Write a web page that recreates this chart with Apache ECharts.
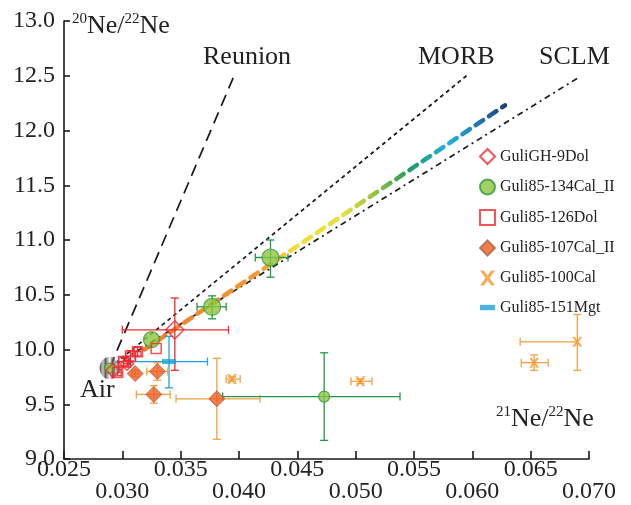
<!DOCTYPE html>
<html>
<head>
<meta charset="utf-8">
<script src="https://cdn.jsdelivr.net/npm/echarts@6/dist/echarts.min.js"></script>
<style>
  html, body { margin: 0; padding: 0; background: #ffffff; }
  #chart { width: 631px; height: 505px; }
</style>
</head>
<body>
<div id="chart"></div>
<script>
// Neon isotope ratios: x = 21Ne/22Ne, y = 20Ne/22Ne
// Sample rows: [x, y, x minus err, x plus err, y minus err, y plus err]
const guliGH9Dol = [
  [0.0345, 10.18, 0.0045, 0.0046, 0.37, 0.29],
  [0.0304, 9.87, 0.0003, 0.0003, 0.03, 0.03],
  [0.0292, 9.81, 0, 0, 0, 0]
];
const guli85_134Cal = [
  [0.0427, 10.84, 0.0013, 0.0015, 0.18, 0.16],
  [0.0377, 10.39, 0.0013, 0.0012, 0.11, 0.10],
  [0.0325, 10.09, 0, 0, 0, 0],
  [0.0473, 9.57, 0.0087, 0.0065, 0.40, 0.40],
  [0.0289, 9.83, 0, 0, 0, 0]
];
const guli85_126Dol = [
  [0.0329, 10.01, 0, 0, 0, 0],
  [0.0313, 9.98, 0.0003, 0.0003, 0.04, 0.04],
  [0.0307, 9.94, 0.0004, 0.0004, 0.05, 0.05],
  [0.0301, 9.89, 0.0004, 0.0004, 0.04, 0.04],
  [0.0296, 9.79, 0.0003, 0.0003, 0.03, 0.03]
];
const guli85_107Cal = [
  [0.0311, 9.78, 0.0003, 0.0003, 0.03, 0.03],
  [0.0330, 9.80, 0.0009, 0.0009, 0.08, 0.08],
  [0.0327, 9.59, 0.0015, 0.0014, 0.08, 0.08],
  [0.0381, 9.55, 0.0035, 0.0037, 0.37, 0.37]
];
const guli85_100Cal = [
  [0.0394, 9.73, 0.0005, 0.0007, 0.02, 0.02],
  [0.0504, 9.71, 0.0008, 0.0010, 0.02, 0.02],
  [0.0653, 9.88, 0.0011, 0.0012, 0.07, 0.07],
  [0.0690, 10.07, 0.0049, 0, 0.26, 0.25]
];
const guli85_151Mgt = [
  [0.0340, 9.89, 0.0034, 0.0033, 0.24, 0.23]
];
const airPoint = [[0.0289, 9.83]];

// Mixing / reference trends
const reunionLine = [[0.0289, 9.83], [0.0395, 12.48]];
const morbLine = [[0.0289, 9.83], [0.0595, 12.50]];
const sclmLine = [[0.0289, 9.83], [0.0692, 12.49]];
const trendLine = [[0.0319, 10.00], [0.0628, 12.23]];

// Axis tick labels
const xTickLabels = ['0.025', '0.030', '0.035', '0.040', '0.045', '0.050', '0.055', '0.060', '0.065', '0.070'];
const yTickLabels = ['9.0', '9.5', '10.0', '10.5', '11.0', '11.5', '12.0', '12.5', '13.0'];

const seriesNames = ['GuliGH-9Dol', 'Guli85-134Cal_II', 'Guli85-126Dol', 'Guli85-107Cal_II', 'Guli85-100Cal', 'Guli85-151Mgt'];

const SERIF = '"Liberation Serif", "DejaVu Serif", serif';
const crossPath = 'path://M0,0 L2.6,0 L5,3.4 L7.4,0 L10,0 L6.4,5 L10,10 L7.4,10 L5,6.6 L2.6,10 L0,10 L3.6,5 Z';
const barPath = 'path://M0,0 H14 V5 H0 Z';

function errorBars(name, rows, color) {
  return {
    type: 'custom',
    name: name + ' error',
    data: rows,
    z: 3,
    clip: false,
    encode: { x: 0, y: 1 },
    renderItem: function (params, api) {
      const x = api.value(0), y = api.value(1);
      const l = api.coord([x - api.value(2), y]);
      const r = api.coord([x + api.value(3), y]);
      const b = api.coord([x, y - api.value(4)]);
      const t = api.coord([x, y + api.value(5)]);
      const cap = 4;
      const style = { stroke: color, lineWidth: 1.3 };
      const kids = [];
      const add = (x1, y1, x2, y2) => kids.push({ type: 'line', shape: { x1, y1, x2, y2 }, style });
      if (r[0] - l[0] > 1) {
        add(l[0], l[1], r[0], r[1]);
        add(l[0], l[1] - cap, l[0], l[1] + cap);
        if (api.value(3) > 0) add(r[0], r[1] - cap, r[0], r[1] + cap);
      }
      if (b[1] - t[1] > 1) {
        add(t[0], t[1], b[0], b[1]);
        add(t[0] - cap, t[1], t[0] + cap, t[1]);
        add(b[0] - cap, b[1], b[0] + cap, b[1]);
      }
      return { type: 'group', children: kids };
    }
  };
}

function refLine(rows, dash, width) {
  return {
    type: 'line', data: rows, showSymbol: false, silent: true, z: 1, clip: false,
    lineStyle: { color: '#1a1a1a', width: width, type: dash }
  };
}

const chart = echarts.init(document.getElementById('chart'), null, { renderer: 'canvas' });

chart.setOption({
  animation: false,
  backgroundColor: '#ffffff',
  textStyle: { fontFamily: SERIF },
  grid: { left: 64, right: 42, top: 21, bottom: 46 },
  xAxis: {
    type: 'value', min: 0.025, max: 0.070, interval: 0.005,
    axisLine: { lineStyle: { color: '#1a1a1a', width: 1.6 } },
    axisTick: { inside: true, length: 8, lineStyle: { color: '#1a1a1a', width: 1.6 } },
    splitLine: { show: false },
    axisLabel: {
      margin: 0, fontFamily: SERIF, fontSize: 24, color: '#222', lineHeight: 22,
      formatter: function (v) {
        const k = Math.round((v - 0.025) / 0.005);
        const s = xTickLabels[k];
        return k % 2 === 0 ? s : '\n' + s;
      }
    }
  },
  yAxis: {
    type: 'value', min: 9, max: 13, interval: 0.5,
    axisLine: { lineStyle: { color: '#1a1a1a', width: 1.6 } },
    axisTick: { inside: true, length: 6, lineStyle: { color: '#1a1a1a', width: 1.6 } },
    splitLine: { show: false },
    axisLabel: {
      margin: 9, fontFamily: SERIF, fontSize: 24, color: '#222',
      formatter: function (v) { return yTickLabels[Math.round((v - 9) / 0.5)]; }
    }
  },
  legend: {
    orient: 'vertical', left: 479, top: 148, padding: 0,
    itemWidth: 15, itemHeight: 15, itemGap: 13.5,
    textStyle: { fontFamily: SERIF, fontSize: 16, color: '#222' },
    data: [
      { name: seriesNames[0] },
      { name: seriesNames[1] },
      { name: seriesNames[2] },
      { name: seriesNames[3] },
      { name: seriesNames[4] },
      { name: seriesNames[5], icon: barPath }
    ]
  },
  graphic: [
    {
      type: 'text', left: 72, top: 12,
      style: {
        text: '{s|20}{n|Ne/}{s|22}{n|Ne}', fill: '#222',
        rich: {
          s: { fontFamily: SERIF, fontSize: 15, lineHeight: 15, verticalAlign: 'top', fill: '#222' },
          n: { fontFamily: SERIF, fontSize: 26, lineHeight: 28, fill: '#222' }
        }
      }
    },
    {
      type: 'text', left: 496, top: 405,
      style: {
        text: '{s|21}{n|Ne/}{s|22}{n|Ne}', fill: '#222',
        rich: {
          s: { fontFamily: SERIF, fontSize: 15, lineHeight: 15, verticalAlign: 'top', fill: '#222' },
          n: { fontFamily: SERIF, fontSize: 26, lineHeight: 28, fill: '#222' }
        }
      }
    },
    { type: 'text', left: 203, top: 44, style: { text: 'Reunion', font: '26px "Liberation Serif"', fill: '#222' } },
    { type: 'text', left: 418, top: 44, style: { text: 'MORB', font: '26px "Liberation Serif"', fill: '#222' } },
    { type: 'text', left: 539, top: 44, style: { text: 'SCLM', font: '26px "Liberation Serif"', fill: '#222' } },
    { type: 'text', left: 80, top: 377, style: { text: 'Air', font: '26px "Liberation Serif"', fill: '#222' } }
  ],
  series: [
    refLine(reunionLine, [12, 7], 1.7),
    refLine(morbLine, [4, 3.5], 1.7),
    refLine(sclmLine, [6, 4, 2, 4], 1.7),
    {
      type: 'line', data: trendLine, showSymbol: false, silent: true, z: 2,
      lineStyle: {
        width: 4.5, type: [9, 7], cap: 'round',
        color: new echarts.graphic.LinearGradient(0, 0, 1, 0, [
          { offset: 0, color: '#ef7d2b' },
          { offset: 0.33, color: '#f39a33' },
          { offset: 0.42, color: '#f5de38' },
          { offset: 0.55, color: '#e7e13c' },
          { offset: 0.63, color: '#9ec53e' },
          { offset: 0.73, color: '#1b9e5c' },
          { offset: 0.84, color: '#1db2e3' },
          { offset: 0.93, color: '#1f6fae' },
          { offset: 1, color: '#1b3a74' }
        ])
      }
    },
    {
      type: 'scatter', name: 'Air', data: airPoint, z: 4, symbol: 'circle', symbolSize: [20, 22],
      itemStyle: {
        color: new echarts.graphic.LinearGradient(0, 0, 1, 0, [
          { offset: 0, color: '#2b2b2b' },
          { offset: 0.18, color: '#b5b5b5' },
          { offset: 0.3, color: '#3a3a3a' },
          { offset: 0.5, color: '#f0f0f0' },
          { offset: 0.68, color: '#4a4a4a' },
          { offset: 0.82, color: '#c8c8c8' },
          { offset: 1, color: '#262626' }
        ])
      }
    },
    errorBars(seriesNames[5], guli85_151Mgt, '#1ba3dc'),
    errorBars(seriesNames[4], guli85_100Cal, '#f5a043'),
    errorBars(seriesNames[3], guli85_107Cal, '#f5a043'),
    errorBars(seriesNames[1], guli85_134Cal, '#24964a'),
    errorBars(seriesNames[2], guli85_126Dol, '#ee2a2e'),
    errorBars(seriesNames[0], guliGH9Dol, '#ee2a2e'),
    {
      type: 'scatter', name: seriesNames[5], data: guli85_151Mgt, z: 5,
      symbol: barPath, symbolSize: [14, 5], symbolKeepAspect: false,
      itemStyle: { color: '#1ba3dc' }
    },
    {
      type: 'scatter', name: seriesNames[4], data: guli85_100Cal, z: 5,
      symbol: crossPath, symbolSize: 10,
      itemStyle: { color: '#f39a2e' }
    },
    {
      type: 'scatter', name: seriesNames[3], data: guli85_107Cal, z: 5,
      symbol: 'diamond', symbolSize: 16,
      itemStyle: { color: '#ee5d26', borderColor: '#a9683f', borderWidth: 1 }
    },
    {
      type: 'scatter', name: seriesNames[1], data: guli85_134Cal, z: 6,
      symbol: 'circle',
      symbolSize: function (v, p) { return [17, 17, 16, 11, 10][p.dataIndex]; },
      itemStyle: { color: '#8cc540', borderColor: '#2f9a3e', borderWidth: 1.2 }
    },
    {
      type: 'scatter', name: seriesNames[2], data: guli85_126Dol, z: 7,
      symbol: 'rect', symbolSize: 10,
      itemStyle: { color: 'rgba(255,255,255,0)', borderColor: '#ee2a2e', borderWidth: 1.5 }
    },
    {
      type: 'scatter', name: seriesNames[0], data: guliGH9Dol, z: 7,
      symbol: 'diamond', symbolSize: function (v, p) { return [18, 13, 14][p.dataIndex]; },
      itemStyle: { color: 'rgba(255,255,255,0)', borderColor: '#ee2a2e', borderWidth: 1.6 }
    }
  ]
});
</script>
</body>
</html>
